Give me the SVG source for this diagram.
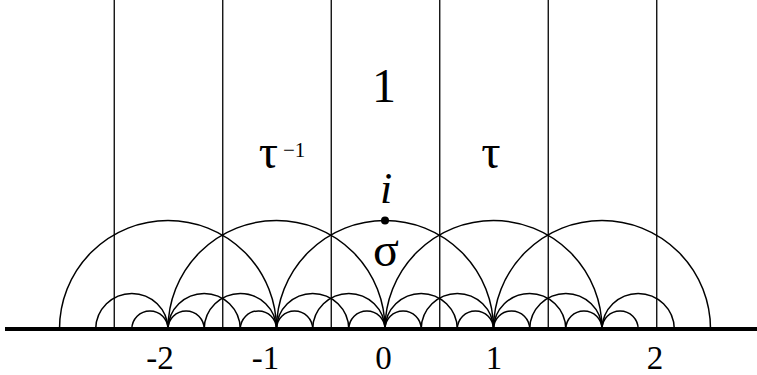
<svg xmlns="http://www.w3.org/2000/svg" width="757" height="375" viewBox="0 0 757 375">
<style>
.ln{stroke:#000;stroke-width:1.3;fill:none}
.arc{stroke:#000;stroke-width:1.5;fill:none}
.ax{stroke:#000;stroke-width:4}
.big{font-size:48px;text-anchor:middle}
.num{font-size:33px;text-anchor:middle}
</style>
<rect width="757" height="375" fill="#fff"/>
<g id="connectors">
<g id="verticals">
<line class="ln" x1="114.25" y1="0" x2="114.25" y2="328"/>
<line class="ln" x1="222.75" y1="0" x2="222.75" y2="328"/>
<line class="ln" x1="331.25" y1="0" x2="331.25" y2="328"/>
<line class="ln" x1="439.75" y1="0" x2="439.75" y2="328"/>
<line class="ln" x1="548.25" y1="0" x2="548.25" y2="328"/>
<line class="ln" x1="656.75" y1="0" x2="656.75" y2="328"/>
</g>
<g id="unit-circles">
<path class="arc" d="M59.5,329 A108.5,108.5 0 0 1 276.5,329"/>
<path class="arc" d="M168,329 A108.5,108.5 0 0 1 385,329"/>
<path class="arc" d="M276.5,329 A108.5,108.5 0 0 1 493.5,329"/>
<path class="arc" d="M385,329 A108.5,108.5 0 0 1 602,329"/>
<path class="arc" d="M493.5,329 A108.5,108.5 0 0 1 710.5,329"/>
</g>
<g id="third-circles">
<path class="arc" d="M95.67,329 A36.17,36.17 0 0 1 168,329"/>
<path class="arc" d="M168,329 A36.17,36.17 0 0 1 240.33,329"/>
<path class="arc" d="M204.17,329 A36.17,36.17 0 0 1 276.5,329"/>
<path class="arc" d="M276.5,329 A36.17,36.17 0 0 1 348.83,329"/>
<path class="arc" d="M312.67,329 A36.17,36.17 0 0 1 385,329"/>
<path class="arc" d="M385,329 A36.17,36.17 0 0 1 457.33,329"/>
<path class="arc" d="M421.17,329 A36.17,36.17 0 0 1 493.5,329"/>
<path class="arc" d="M493.5,329 A36.17,36.17 0 0 1 565.83,329"/>
<path class="arc" d="M529.67,329 A36.17,36.17 0 0 1 602,329"/>
<path class="arc" d="M602,329 A36.17,36.17 0 0 1 674.33,329"/>
</g>
<g id="sixth-circles">
<path class="arc" d="M131.83,329 A18.08,18.08 0 0 1 168,329"/>
<path class="arc" d="M168,329 A18.08,18.08 0 0 1 204.17,329"/>
<path class="arc" d="M240.33,329 A18.08,18.08 0 0 1 276.5,329"/>
<path class="arc" d="M276.5,329 A18.08,18.08 0 0 1 312.67,329"/>
<path class="arc" d="M348.83,329 A18.08,18.08 0 0 1 385,329"/>
<path class="arc" d="M385,329 A18.08,18.08 0 0 1 421.17,329"/>
<path class="arc" d="M457.33,329 A18.08,18.08 0 0 1 493.5,329"/>
<path class="arc" d="M493.5,329 A18.08,18.08 0 0 1 529.67,329"/>
<path class="arc" d="M565.83,329 A18.08,18.08 0 0 1 602,329"/>
<path class="arc" d="M602,329 A18.08,18.08 0 0 1 638.17,329"/>
</g>
<line id="axis" class="ax" x1="5" y1="329" x2="757" y2="329"/>
</g>
<g font-family="'Liberation Serif', 'Times New Roman', 'DejaVu Serif', serif" fill="#000">
<g id="label-1"><text class="big" x="384" y="102">1</text></g>
<g id="label-tau-inv"><text class="big" x="268.5" y="168">τ</text><text x="283" y="157" font-size="21">−1</text></g>
<g id="label-tau"><text class="big" x="491" y="168">τ</text></g>
<g id="point-i"><text x="386" y="203" font-size="44" font-style="italic" text-anchor="middle">i</text><circle cx="385" cy="220.5" r="4"/></g>
<g id="label-sigma"><text class="big" x="386" y="266">σ</text></g>
<g id="axis-labels">
<text class="num" x="160" y="369">-2</text>
<text class="num" x="265.5" y="369">-1</text>
<text class="num" x="383.5" y="369">0</text>
<text class="num" x="494" y="369">1</text>
<text class="num" x="655" y="369">2</text>
</g>
</g>
</svg>
